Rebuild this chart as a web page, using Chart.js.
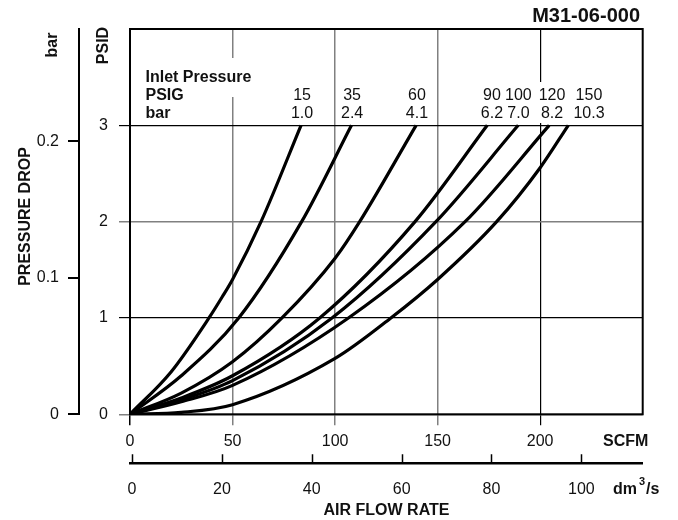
<!DOCTYPE html>
<html>
<head>
<meta charset="utf-8">
<script src="https://cdn.jsdelivr.net/npm/chart.js@4.4.0/dist/chart.umd.min.js"></script>
<style>
  html, body { margin: 0; padding: 0; background: #fff; }
</style>
</head>
<body>
<canvas id="myChart" width="678" height="520"></canvas>
<script>
// inlet pressure of each curve
const inletPsig = ['15', '35', '60', '90', '100', '120', '150'];
const inletBar = ['1.0', '2.4', '4.1', '6.2', '7.0', '8.2', '10.3'];

// curves: flow in SCFM, pressure drop in PSID
const flow15 = [0, 20, 38.5, 45, 50, 63.9, 83.4];
const drop15 = [0, 0.44, 1.0, 1.22, 1.40, 2.0, 3.0];
const flow35 = [0, 25, 53, 83.7, 108];
const drop35 = [0, 0.40, 1.0, 2.0, 3.0];
const flow60 = [0, 25, 50, 74.1, 100, 112, 139.5];
const drop60 = [0, 0.22, 0.545, 1.0, 1.62, 2.0, 3.0];
const flow90 = [0, 25, 50, 92.5, 139, 174.2];
const drop90 = [0, 0.17, 0.40, 1.0, 2.0, 3.0];
const flow100 = [0, 25, 50, 98.5, 149.2, 189.3];
const drop100 = [0, 0.15, 0.35, 1.0, 2.0, 3.0];
const flow120 = [0, 25, 50, 106.5, 163.4, 204.4];
const drop120 = [0, 0.13, 0.30, 1.0, 2.0, 3.0];
const flow150 = [0, 25, 50, 100, 127.2, 150, 178.8, 200, 213.7];
const drop150 = [0, 0.02, 0.10, 0.58, 1.0, 1.40, 2.0, 2.56, 3.0];

// tick labels
const scfmTicks = [0, 50, 100, 150, 200];
const dmTicks = [0, 20, 40, 60, 80, 100];
const psidTicks = [0, 1, 2, 3];
const barTicks = [0, 0.1, 0.2];

// where the inlet pressure columns sit (SCFM)
const labelScfm = [83.9, 108.3, 139.9, 176.5, 189.4, 205.8, 223.8];

const curves = [
  [flow15, drop15], [flow35, drop35], [flow60, drop60], [flow90, drop90],
  [flow100, drop100], [flow120, drop120], [flow150, drop150]
];

Chart.defaults.font.family = '"Liberation Sans", Arial, Helvetica, sans-serif';
Chart.defaults.color = '#111';

const gray = '#808080';
const FONT = '"Liberation Sans", Arial, Helvetica, sans-serif';

function setTicks(list) {
  return function (scale) { scale.ticks = list.map(v => ({ value: v })); };
}

const annotations = {
  id: 'annotations',
  afterDatasetsDraw(chart) {
    const ctx = chart.ctx;
    const x = chart.scales.x;
    ctx.save();
    // header block over the grid
    ctx.fillStyle = '#fff';
    ctx.fillRect(142, 58, 112, 39);
    ctx.font = '16px ' + FONT;
    labelScfm.forEach((v, i) => {
      const c = x.getPixelForValue(v);
      const w = Math.max(ctx.measureText(inletPsig[i]).width, ctx.measureText(inletBar[i]).width);
      ctx.fillRect(c - w / 2 - 3, 82, w + 6, 41);
    });
    ctx.fillStyle = '#111';
    ctx.textBaseline = 'alphabetic';
    ctx.textAlign = 'left';
    ctx.font = 'bold 16px ' + FONT;
    ctx.fillText('Inlet Pressure', 145.5, 81.5);
    ctx.fillText('PSIG', 145.5, 99.5);
    ctx.fillText('bar', 145.5, 118);
    ctx.font = '16px ' + FONT;
    ctx.textAlign = 'center';
    labelScfm.forEach((v, i) => {
      const c = x.getPixelForValue(v);
      ctx.fillText(inletPsig[i], c, 99.5);
      ctx.fillText(inletBar[i], c, 118);
    });
    ctx.restore();
  },
  afterDraw(chart) {
    const ctx = chart.ctx;
    const a = chart.chartArea;
    ctx.save();
    ctx.strokeStyle = '#000';
    ctx.lineWidth = 2;
    ctx.strokeRect(a.left, a.top, a.right - a.left, a.bottom - a.top);

    // upward ticks of the dm3/s axis
    const x2 = chart.scales.x2;
    ctx.lineWidth = 1.5;
    ctx.beginPath();
    dmTicks.forEach(v => {
      const px = Math.round(x2.getPixelForValue(v)) + 0.5;
      ctx.moveTo(px, x2.top);
      ctx.lineTo(px, x2.top - 9);
    });
    ctx.stroke();

    ctx.fillStyle = '#111';
    ctx.font = 'bold 20px ' + FONT;
    ctx.textAlign = 'right';
    ctx.fillText('M31-06-000', 640, 21.5);

    ctx.font = 'bold 16px ' + FONT;
    ctx.textAlign = 'left';
    ctx.fillText('SCFM', 603, 445.5);
    ctx.fillText('dm', 613, 493.5);
    let w = ctx.measureText('dm').width;
    ctx.font = 'bold 11px ' + FONT;
    ctx.fillText('3', 613 + w + 2, 485);
    const w3 = ctx.measureText('3').width;
    ctx.font = 'bold 16px ' + FONT;
    ctx.fillText('/s', 613 + w + 3 + w3, 493.5);
    ctx.textAlign = 'center';
    ctx.fillText('AIR FLOW RATE', 386.5, 515);

    // vertical titles
    const vtext = (t, px, py) => {
      ctx.save();
      ctx.translate(px, py);
      ctx.rotate(-Math.PI / 2);
      ctx.textAlign = 'center';
      ctx.fillText(t, 0, 0);
      ctx.restore();
    };
    vtext('PRESSURE DROP', 29.5, 216.5);
    vtext('bar', 56.5, 45);
    vtext('PSID', 107.5, 45.5);
    ctx.restore();
  }
};

new Chart(document.getElementById('myChart'), {
  type: 'scatter',
  data: {
    datasets: curves.map(([fx, fy], i) => ({
      label: inletPsig[i] + ' PSIG',
      data: fx.map((v, j) => ({ x: v, y: fy[j] })),
      showLine: true,
      borderColor: '#000',
      borderWidth: 3.2,
      pointRadius: 0,
      fill: false,
      cubicInterpolationMode: 'monotone'
    }))
  },
  options: {
    responsive: false,
    animation: false,
    devicePixelRatio: 1,
    layout: { padding: { top: 29, right: 35.3, left: 0, bottom: 0 } },
    plugins: { legend: { display: false }, tooltip: { enabled: false } },
    scales: {
      x: {
        type: 'linear', position: 'bottom', min: 0, max: 250, weight: 0,
        afterBuildTicks: setTicks(scfmTicks),
        afterFit: s => { s.height = 49; },
        ticks: { font: { size: 16 }, padding: 7, maxRotation: 0, autoSkip: false },
        grid: {
          color: c => (c.tick && (c.tick.value === 0 || c.tick.value === 200)) ? '#000' : gray,
          lineWidth: c => (c.tick && c.tick.value === 200) ? 1.2 : 1.5,
          tickLength: 11
        },
        border: { display: false }
      },
      x2: {
        type: 'linear', position: 'bottom', min: -0.45, max: 113.65, weight: 1,
        afterBuildTicks: setTicks(dmTicks),
        afterFit: s => { s.height = 56.7; },
        ticks: { font: { size: 16 }, padding: 8.5, maxRotation: 0, autoSkip: false },
        grid: { display: false },
        border: { display: true, color: '#000', width: 2.5 }
      },
      y: {
        type: 'linear', position: 'left', min: 0, max: 4, weight: 0,
        afterBuildTicks: setTicks(psidTicks),
        afterFit: s => { s.width = 51; },
        ticks: { font: { size: 16 }, padding: 11 },
        grid: {
          color: c => (c.tick && (c.tick.value === 1 || c.tick.value === 3)) ? '#000' : gray,
          lineWidth: c => (c.tick && (c.tick.value === 1 || c.tick.value === 3)) ? 1.2 : 1.5,
          tickLength: 11
        },
        border: { display: false }
      },
      y2: {
        type: 'linear', position: 'left', min: 0, max: 0.2823, weight: 1,
        afterBuildTicks: setTicks(barTicks),
        afterFit: s => { s.width = 79; },
        ticks: { font: { size: 16 }, padding: 9, callback: v => String(v) },
        grid: { drawOnChartArea: false, color: '#000', lineWidth: 2, tickLength: 11 },
        border: { display: true, color: '#000', width: 2 }
      }
    }
  },
  plugins: [annotations]
});
</script>
</body>
</html>
